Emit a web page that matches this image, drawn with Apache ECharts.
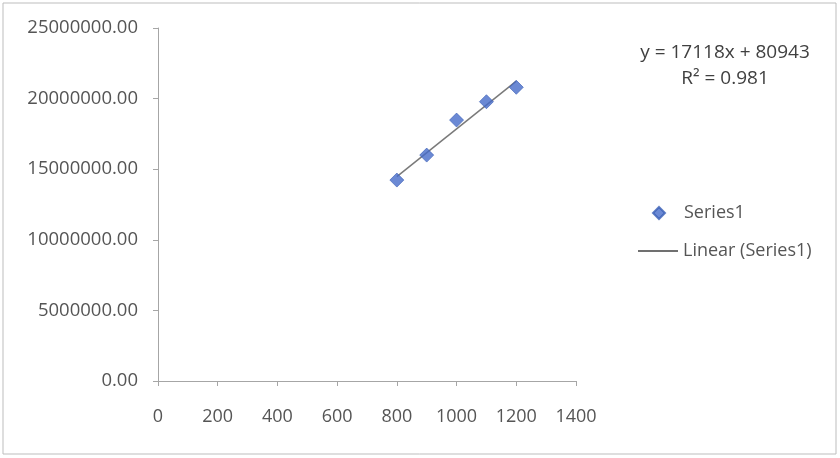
<!DOCTYPE html>
<html>
<head>
<meta charset="utf-8">
<script src="https://cdn.jsdelivr.net/npm/echarts@6/dist/echarts.min.js"></script>
<style>
  html, body { margin: 0; padding: 0; background: #fff; }
  #chart { width: 840px; height: 458px; }
</style>
</head>
<body>
<div id="chart"></div>
<script>
// data
const xValues = [800, 900, 1000, 1100, 1200]
const yValues = [14230000, 16000000, 18480000, 19780000, 20800000]
const equationLines = ['y = 17118x + 80943', 'R² = 0.981']
const seriesName = 'Series1'
const trendName = 'Linear (Series1)'

// least squares fit for the trend line
const n = xValues.length
const mx = xValues.reduce((s, v) => s + v, 0) / n
const my = yValues.reduce((s, v) => s + v, 0) / n
let sxy = 0, sxx = 0
xValues.forEach((x, i) => {
  sxy += (x - mx) * (yValues[i] - my)
  sxx += (x - mx) * (x - mx)
})
const slope = sxy / sxx
const intercept = my - slope * mx
const xFirst = xValues[0]
const xLast = xValues[n - 1]

const font = '"Open Sans", "DejaVu Sans", sans-serif'
const textColor = '#555555'
const axisColor = '#a6a6a6'
const markerColor = '#466cc9'

const chart = echarts.init(document.getElementById('chart'))

chart.setOption({
  animation: false,
  textStyle: { fontFamily: font },
  grid: { left: 158, right: 264, top: 28, bottom: 77 },
  xAxis: {
    type: 'value',
    min: 0,
    max: 1400,
    interval: 200,
    splitLine: { show: false },
    axisLine: { show: true, lineStyle: { color: axisColor, width: 1 } },
    axisTick: { show: true, length: 5, lineStyle: { color: axisColor } },
    axisLabel: {
      color: textColor,
      fontSize: 18,
      margin: 27,
      fontFamily: font,
      formatter: v => String(v)
    }
  },
  yAxis: {
    type: 'value',
    min: 0,
    max: 25000000,
    interval: 5000000,
    splitLine: { show: false },
    axisLine: { show: true, lineStyle: { color: axisColor, width: 1 } },
    axisTick: { show: true, length: 5, lineStyle: { color: axisColor } },
    axisLabel: {
      color: textColor,
      fontSize: 18.5,
      margin: 20,
      fontFamily: font,
      formatter: v => v.toFixed(2)
    }
  },
  legend: [
    {
      orient: 'vertical',
      left: 647,
      top: 199,
      itemWidth: 12,
      itemHeight: 12,
      textStyle: { color: textColor, fontSize: 18, fontFamily: font, padding: [0, 0, 0, 14] },
      data: [{ name: seriesName, icon: 'diamond' }]
    },
    {
      orient: 'vertical',
      left: 633,
      top: 237,
      itemWidth: 40,
      itemHeight: 1.5,
      textStyle: { color: textColor, fontSize: 18, fontFamily: font },
      data: [{ name: trendName, icon: 'rect', itemStyle: { color: '#404040' } }]
    }
  ],
  graphic: [
    {
      type: 'rect',
      shape: { x: 3, y: 3, width: 833, height: 451 },
      style: { fill: 'none', stroke: '#bdbdbd', lineWidth: 1 },
      silent: true
    },
    {
      type: 'text',
      x: 725,
      y: 53,
      style: {
        text: equationLines[0],
        textAlign: 'center',
        textVerticalAlign: 'middle',
        fill: '#404040',
        font: '19px ' + font
      }
    },
    {
      type: 'text',
      x: 725,
      y: 79,
      style: {
        text: equationLines[1],
        textAlign: 'center',
        textVerticalAlign: 'middle',
        fill: '#404040',
        font: '19px ' + font
      }
    }
  ],
  series: [
    {
      name: trendName,
      type: 'line',
      showSymbol: false,
      symbol: 'none',
      data: [
        [xFirst, slope * xFirst + intercept],
        [xLast, slope * xLast + intercept]
      ],
      lineStyle: { color: '#7a7a7a', width: 1.5 },
      itemStyle: { color: '#404040' },
      z: 1
    },
    {
      name: seriesName,
      type: 'scatter',
      symbol: 'diamond',
      symbolSize: 14,
      data: xValues.map((x, i) => [x, yValues[i]]),
      itemStyle: { color: markerColor, borderColor: '#3a5fb5', borderWidth: 0.8 },
      z: 2
    }
  ]
})
</script>
</body>
</html>
